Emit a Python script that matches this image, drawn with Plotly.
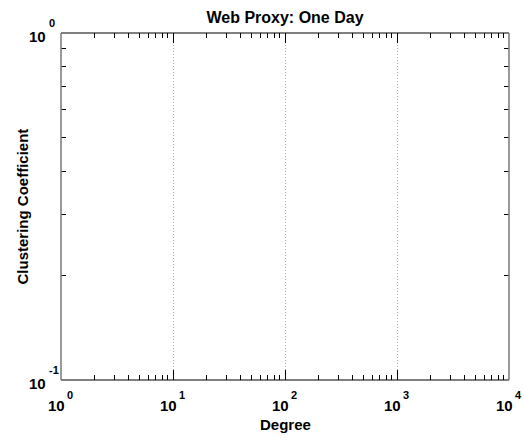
import plotly.graph_objects as go

# Axis extents (log10 decades) and tick labels (base + exponent)
x_decades = [0, 1, 2, 3, 4]
y_decades = [-1, 0]
x_tick_base = ["10", "10", "10", "10", "10"]
x_tick_exp = ["0", "1", "2", "3", "4"]
y_tick_base = ["10", "10"]
y_tick_exp = ["-1", "0"]
x_minor = [m * 10 ** d for d in x_decades[:-1] for m in range(2, 10)]
y_minor = [m * 10 ** d for d in y_decades[:-1] for m in range(2, 10)]

FONT = "Liberation Sans, Arial, Helvetica, sans-serif"
TICK_SIZE = 15
EXP_SIZE = 11

x_vals = [10 ** d for d in x_decades]
y_vals = [10 ** d for d in y_decades]

fig = go.Figure()
# empty traces anchor the log-log axes (bottom/left and mirrored top/right)
fig.add_trace(go.Scatter(x=[], y=[], mode="markers", showlegend=False))
fig.add_trace(go.Scatter(x=[], y=[], mode="markers", xaxis="x2", yaxis="y2",
                         showlegend=False))


def minor_ticks(vals):
    return dict(ticks="inside", ticklen=5, tickwidth=1, tickcolor="black",
                tickmode="array", tickvals=vals, showgrid=False)


def log_axis(rng, vals, minor_vals, **extra):
    ax = dict(
        type="log", range=rng, automargin=False,
        tickmode="array", tickvals=vals, showticklabels=False,
        ticks="inside", ticklen=10, tickwidth=1, tickcolor="black",
        showline=False, zeroline=False, showgrid=False,
        minor=minor_ticks(minor_vals),
    )
    ax.update(extra)
    return ax


fig.update_layout(
    width=524,
    height=440,
    margin=dict(l=61, r=15, t=33, b=60),
    plot_bgcolor="white",
    paper_bgcolor="white",
    showlegend=False,
    title=dict(
        text="Web Proxy: One Day",
        x=(61 + 509) / 2 / 524, xanchor="center", xref="container",
        y=1 - 17 / 440, yanchor="middle", yref="container",
        font=dict(family=FONT, size=16, color="black", weight="bold"),
    ),
    xaxis=log_axis([x_decades[0], x_decades[-1]], x_vals, x_minor,
                   showgrid=True, gridcolor="#b4b4b4", gridwidth=1,
                   griddash="1px,2px"),
    yaxis=log_axis([y_decades[0], y_decades[-1]], y_vals, y_minor),
    xaxis2=log_axis([x_decades[0], x_decades[-1]], x_vals, x_minor,
                    overlaying="x", side="top"),
    yaxis2=log_axis([y_decades[0], y_decades[-1]], y_vals, y_minor,
                    overlaying="y", side="right"),
)

# frame: dark top/bottom edges, grey left/right edges
frame = [
    dict(x0=0, x1=1, y0=0, y1=0, color="black", width=1.2),
    dict(x0=0, x1=1, y0=1, y1=1, color="black", width=1.2),
    dict(x0=0, x1=0, y0=0, y1=1, color="#808080", width=1.6),
    dict(x0=1, x1=1, y0=0, y1=1, color="#808080", width=1.6),
]
for f in frame:
    fig.add_shape(type="line", xref="paper", yref="paper",
                  x0=f["x0"], x1=f["x1"], y0=f["y0"], y1=f["y1"],
                  line=dict(color=f["color"], width=f["width"]))


def label(text, size, **kw):
    fig.add_annotation(text=text, showarrow=False, borderpad=0,
                       font=dict(family=FONT, size=size, color="black",
                                 weight="bold"), **kw)


# x tick labels: "10" with a raised exponent, placed on the log axis
for d, base, exp in zip(x_decades, x_tick_base, x_tick_exp):
    label(base, TICK_SIZE, xref="x", x=d, yref="paper", y=0,
          xanchor="right", yanchor="middle", xshift=5, yshift=-25.5)
    label(exp, EXP_SIZE, xref="x", x=d, yref="paper", y=0,
          xanchor="left", yanchor="middle", xshift=5, yshift=-14.5)

# y tick labels
for d, base, exp in zip(y_decades, y_tick_base, y_tick_exp):
    label(base, TICK_SIZE, xref="paper", x=0, yref="y", y=d,
          xanchor="right", yanchor="middle", xshift=-14, yshift=-3.7)
    label(exp, EXP_SIZE, xref="paper", x=0, yref="y", y=d,
          xanchor="left", yanchor="middle", xshift=-13.5, yshift=10)

# axis titles
label("Degree", 15, xref="paper", x=0.5, yref="paper", y=0,
      xanchor="center", yanchor="middle", yshift=-44)
label("Clustering Coefficient", 15, xref="paper", x=0, yref="paper", y=0.5,
      xanchor="center", yanchor="middle", xshift=-39, textangle=-90)

fig.write_html("out.html")
